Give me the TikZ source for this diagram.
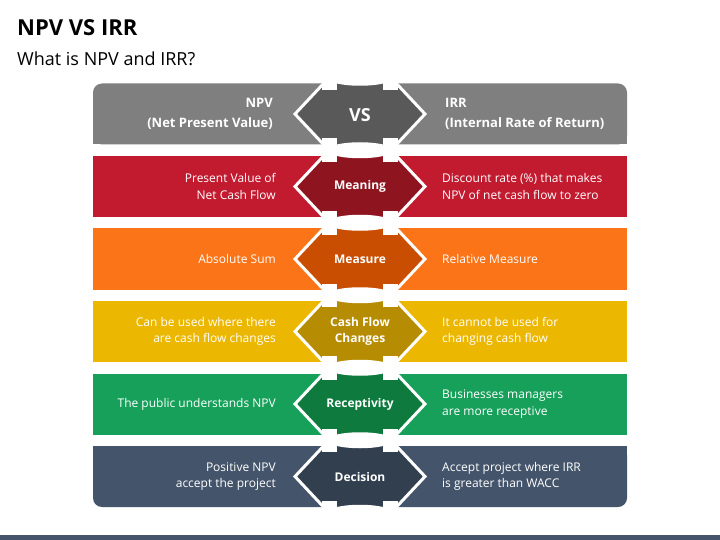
\documentclass[tikz,border=0pt]{standalone}
\usepackage{fontspec}
\setmainfont{Open Sans}
\definecolor{barA}{HTML}{7F7F7F}\definecolor{hexA}{HTML}{595959}
\definecolor{barB}{HTML}{C21A2E}\definecolor{hexB}{HTML}{8E1520}
\definecolor{barC}{HTML}{FB7417}\definecolor{hexC}{HTML}{C94E02}
\definecolor{barD}{HTML}{EBB700}\definecolor{hexD}{HTML}{B58C02}
\definecolor{barE}{HTML}{16A05A}\definecolor{hexE}{HTML}{0E7A3E}
\definecolor{barF}{HTML}{44546A}\definecolor{hexF}{HTML}{323F4F}
\tikzset{
  lt/.style={text=white, font=\fontsize{12}{16.5}\selectfont, align=right, anchor=east, inner sep=0pt},
  rt/.style={text=white, font=\fontsize{12}{16.5}\selectfont, align=left, anchor=west, inner sep=0pt},
  hdl/.style={text=white, font=\bfseries\fontsize{13}{20}\selectfont, align=right, anchor=east, inner sep=0pt},
  hdr/.style={text=white, font=\bfseries\fontsize{13}{20}\selectfont, align=left, anchor=west, inner sep=0pt},
  hl/.style={text=white, font=\bfseries\fontsize{12}{16.5}\selectfont, align=center, inner sep=0pt},
  hexbox/.style={draw=white, line width=3pt, line join=miter},
  notch/.style={fill=white}
}
\begin{document}
\begin{tikzpicture}[x=1pt,y=-1pt]
\useasboundingbox (0,0) rectangle (720,540);
\fill[white] (0,0) rectangle (720,540);
% title
\node[anchor=base west, inner sep=0pt, font=\bfseries\fontsize{22}{26}\selectfont] (title) at (17,36) {NPV VS IRR};
\node[anchor=base west, inner sep=0pt, font=\fontsize{18}{22}\selectfont] (subtitle) at (17,66) {What is NPV and IRR?};
% bars
\fill[barA, rounded corners=9pt] (93,83.5) rectangle (627,144.5);
\fill[barA] (93,110) rectangle (627,144.5);
\fill[barB] (93,156) rectangle (627,217);
\fill[barC] (93,228.5) rectangle (627,289.5);
\fill[barD] (93,301) rectangle (627,362);
\fill[barE] (93,373.5) rectangle (627,434.5);
\fill[barF, rounded corners=9pt] (93,446) rectangle (627,507);
\fill[barF] (93,446) rectangle (627,480);
% hexagons
\foreach \i/\hc in {0/hexA,1/hexB,2/hexC,3/hexD,4/hexE,5/hexF}{
  \pgfmathsetmacro\t{83.5+72.5*\i}
  \pgfmathsetmacro\b{\t+61}
  \pgfmathsetmacro\m{\t+30.5}
  \filldraw[hexbox, fill=\hc] (295,\m) -- (325,\t-1.5) -- (337,\t-1.5)
     .. controls (350,\t+1.5) and (370,\t+1.5) .. (383,\t-1.5) -- (395,\t-1.5)
     -- (425,\m) -- (395,\b+1.5) -- (383,\b+1.5)
     .. controls (370,\b-1.5) and (350,\b-1.5) .. (337,\b+1.5) -- (325,\b+1.5) -- cycle;
}
% notches
\foreach \i in {0,...,4}{
  \pgfmathsetmacro\b{83.5+72.5*\i+61}
  \fill[notch] (322,\b-6) rectangle (337,\b+17.5);
  \fill[notch] (383,\b-6) rectangle (398,\b+17.5);
}
\fill[notch] (322,80) rectangle (337,90);
\fill[notch] (383,80) rectangle (398,90);
\fill[notch] (322,501) rectangle (337,510);
\fill[notch] (383,501) rectangle (398,510);
% hexagon labels
\node[text=white, font=\bfseries\fontsize{18}{22}\selectfont, inner sep=0pt] (vs) at (360,115) {VS};
\node[hl] (hm) at (360,186.5) {Meaning};
\node[hl] (hme) at (360,259) {Measure};
\node[hl] (hc) at (360,331.5) {Cash Flow\\Changes};
\node[hl] (hr) at (360,404) {Receptivity};
\node[hl] (hd) at (360,476.5) {Decision};
% header texts
\node[hdl] (npv) at (273,113.5) {NPV\\(Net Present Value)};
\node[hdr] (irr) at (445,113.5) {IRR\\(Internal Rate of Return)};
% left texts
\node[lt] (l1) at (276,186.5) {Present Value of\\Net Cash Flow};
\node[lt] (l2) at (276,259) {Absolute Sum};
\node[lt] (l3) at (276,331.5) {Can be used where there\\are cash flow changes};
\node[lt] (l4) at (276,404) {The public understands NPV};
\node[lt] (l5) at (276,476.5) {Positive NPV\\accept the project};
% right texts
\node[rt] (r1) at (442,186.5) {Discount rate (\%) that makes\\NPV of net cash flow to zero};
\node[rt] (r2) at (442,259) {Relative Measure};
\node[rt] (r3) at (442,331.5) {It cannot be used for\\changing cash flow};
\node[rt] (r4) at (442,404) {Businesses managers\\are more receptive};
\node[rt] (r5) at (442,476.5) {Accept project where IRR\\is greater than WACC};
% bottom band
\fill[barF] (0,535) rectangle (720,540);
\end{tikzpicture}
\end{document}
